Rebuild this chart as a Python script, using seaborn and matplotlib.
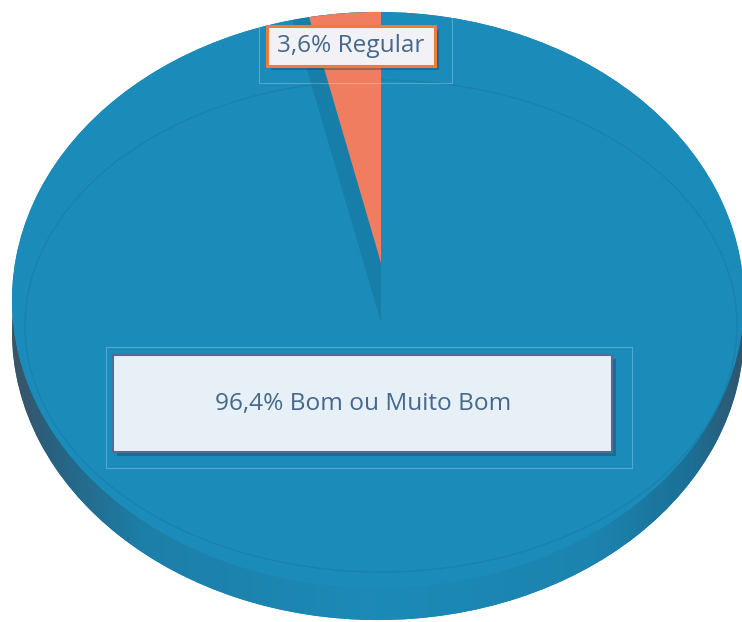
import numpy as np
import matplotlib
matplotlib.use('Agg')
import matplotlib.pyplot as plt
import matplotlib.patheffects as pe
import seaborn as sns
from matplotlib.colors import LinearSegmentedColormap
from matplotlib.patches import Rectangle, Ellipse

categories = ['Regular', 'Bom ou Muito Bom']
shares = [3.6, 96.4]
slice_colors = ['#f07d5f', '#1b8bba']

sns.set_theme(style='white')
plt.rcParams['font.family'] = ['Open Sans', 'DejaVu Sans']

W, H = 742, 622
K = 0.787  # vertical squash of the tilted disc

fig = plt.figure(figsize=(W / 100, H / 100), dpi=100)
ax = fig.add_axes([0, 0, 1, 1])


def py(y):
    # pixel row -> squashed data y
    return (H - y) / K


def clip_to(artist, patch):
    # pie wedges come with clip_on=False, switch it back on
    artist.set_clip_path(patch)
    artist.set_clip_on(True)


cx, cy, rx = 378, 300, 366
depth = 32
flat = dict(linewidth=0)

# side of the disc (gradient clipped to the lowered disc)
side, _ = ax.pie([1], colors=['#1c86b2'], radius=rx, center=(cx, py(cy + depth)),
                 wedgeprops=flat, frame=True)
side[0].set_zorder(1)
side_cmap = LinearSegmentedColormap.from_list('side', [
    (0.0, '#3b5366'), (0.05, '#29617f'), (0.18, '#1c7fa9'), (0.5, '#1c8ab7'),
    (0.8, '#1b83ae'), (0.93, '#1c6f95'), (1.0, '#30566e')])
im = ax.imshow(np.linspace(0, 1, 256)[None, :], extent=(cx - rx, cx + rx, 0, H / K),
               cmap=side_cmap, aspect='auto', zorder=1.5)
clip_to(im, side[0])

# top face
top, _ = ax.pie([1], colors=[slice_colors[1]], radius=rx, center=(cx, py(cy)),
                wedgeprops=flat, frame=True)
top_patch = top[0]
top_patch.set_zorder(2)

# slices seen on the top face: darker wall where the small slice sits
main, _ = ax.pie(shares, colors=['#167ea8', slice_colors[1]], radius=520,
                 center=(381, py(323)), startangle=90, counterclock=True,
                 wedgeprops=flat, frame=True)
for w in main:
    clip_to(w, top_patch)
    w.set_zorder(3)

lifted, _ = ax.pie(shares, colors=[slice_colors[0], 'none'], radius=520,
                   center=(381, py(263)), startangle=90, counterclock=True,
                   wedgeprops=flat, frame=True)
lifted[1].set_visible(False)
clip_to(lifted[0], top_patch)
lifted[0].set_zorder(4)

# bevel edge line
bevel = Ellipse((381, py(326)), 2 * 356, 2 * 246 / K, fill=False,
                edgecolor='#14789f', linewidth=1.0, alpha=0.45, zorder=3.5)
ax.add_patch(bevel)

ax.set_aspect('auto')
ax.set_xlim(0, W)
ax.set_ylim(0, H / K)
ax.axis('off')

# label layer in pixel coordinates
ax2 = fig.add_axes([0, 0, 1, 1])
ax2.set_xlim(0, W)
ax2.set_ylim(H, 0)
ax2.axis('off')
ax2.patch.set_alpha(0)

labels = [f"{v:.1f}%".replace('.', ',') + ' ' + c for v, c in zip(shares, categories)]
shadow = [pe.SimplePatchShadow(offset=(3, -3), shadow_rgbFace='#1d3f58', alpha=0.4), pe.Normal()]

ax2.add_patch(Rectangle((259, 10), 193, 73, fill=False, edgecolor='white', alpha=0.25, linewidth=0.8))
box_small = Rectangle((267, 26), 168, 40, facecolor='#f2f2f6', edgecolor='#ef7b3e', linewidth=2.2)
box_small.set_path_effects(shadow)
ax2.add_patch(box_small)
ax2.text(351, 46, labels[0], ha='center', va='center', fontsize=17.6, color='#44698c')

ax2.add_patch(Rectangle((106, 347), 526, 121, fill=False, edgecolor='white', alpha=0.25, linewidth=0.8))
box_big = Rectangle((113, 355), 499, 97, facecolor='#e8f0f7', edgecolor='#4f6f8e', linewidth=1.5)
box_big.set_path_effects(shadow)
ax2.add_patch(box_big)
ax2.text(363, 404, labels[1], ha='center', va='center', fontsize=17.6, color='#44698c')

fig.savefig('out.png', dpi=100, facecolor='white')
